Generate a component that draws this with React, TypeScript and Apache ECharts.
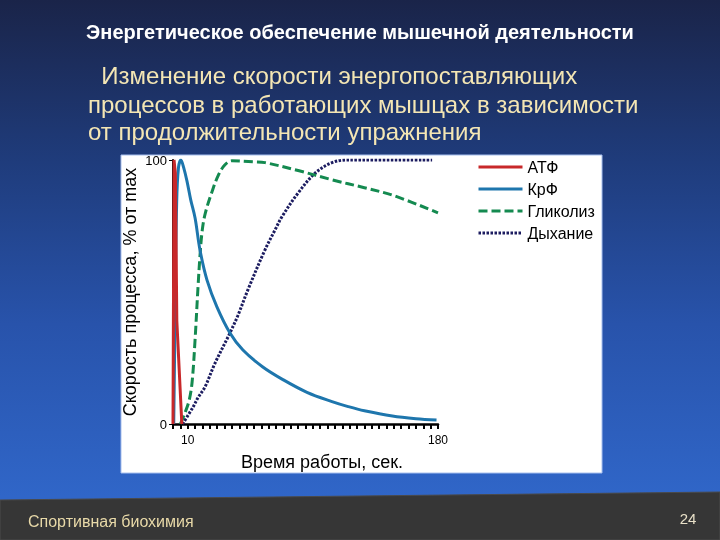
import React, { useEffect, useRef } from "react";
import * as echarts from "echarts";

const seriesNames = ["АТФ", "КрФ", "Гликолиз", "Дыхание"];

const atpData = [[0, 0], [0.7, 100], [1.6, 95], [2.6, 39], [6, 0]];
const crpData = [
  [0.5, 0], [1.5, 45], [2.5, 84], [3.7, 97], [5.4, 100], [7.3, 97], [9.5, 92],
  [12, 85], [15, 78], [18.3, 66], [23.1, 54.5], [29.9, 44.3],
  [38.7, 34.5], [47.5, 28], [61, 21.6], [75, 16.7], [91, 12], [108, 8.5],
  [119, 6.6], [130, 5], [149, 3], [165, 2], [179, 1.5],
];
const glyData = [
  [5, 0], [8, 4], [11, 9], [13, 16], [15, 32], [17, 52], [18.5, 65], [20, 74],
  [22, 80], [26.5, 88], [30.6, 94], [35, 98], [40, 99.7], [55, 99.3],
  [62.5, 99], [85, 96], [108, 92.5], [130, 89.5], [150, 86.5], [180, 80],
];
const respData = [
  [6.5, 0], [13.6, 6.4], [17, 10], [21.7, 14], [28.5, 23], [38.7, 34.5],
  [44, 41], [51, 51], [62.5, 66], [69.3, 73.5], [74, 78.5], [85, 87.5],
  [96.5, 95], [108, 99], [119, 100], [176, 100],
];

const xLabelValues = [10, 180];
const yLabelValues = [0, 100];

const titleText = "Энергетическое обеспечение мышечной деятельности";
const subtitleLines = [
  "  Изменение скорости энергопоставляющих",
  "процессов в работающих мышцах в зависимости",
  "от продолжительности упражнения",
];
const yAxisTitle = "Скорость процесса, % от max";
const xAxisTitle = "Время работы, сек.";
const footerLeft = "Спортивная биохимия";
const footerRight = "24";

export default function App() {
  const ref = useRef<HTMLDivElement>(null);
  useEffect(() => {
    if (!ref.current) return;
    const chart = echarts.init(ref.current, null, { renderer: "svg" });
    const font = "Liberation Sans, Arial, sans-serif";
    chart.setOption({
      animation: false,
      graphic: [
        {
          type: "rect", z: -10, silent: true,
          shape: { x: 0, y: 0, width: 720, height: 540 },
          style: {
            fill: new echarts.graphic.LinearGradient(0, 0, 0, 1, [
              { offset: 0, color: "#1a2449" },
              { offset: 0.3, color: "#1f3c7c" },
              { offset: 0.6, color: "#2853ab" },
              { offset: 0.92, color: "#3066c8" },
              { offset: 1, color: "#3066c8" },
            ]),
          },
        },
        {
          type: "polygon", z: -9, silent: true,
          shape: { points: [[0, 500], [720, 492], [720, 540], [0, 540]] },
          style: { fill: "#363636", stroke: "#4a4a4a", lineWidth: 1 },
        },
        {
          type: "rect", z: -8, silent: true,
          shape: { x: 121, y: 155, width: 481, height: 318 },
          style: { fill: "#ffffff", stroke: "#a8c0ee", lineWidth: 1 },
        },
        {
          type: "text", x: 360, y: 32,
          style: {
            text: titleText, fill: "#ffffff", font: `bold 20px ${font}`,
            align: "center", verticalAlign: "middle",
          },
        },
        ...subtitleLines.map((t, i) => ({
          type: "text", x: 88, y: [75, 104, 131][i],
          style: {
            text: t, fill: "#f4e6b4", font: `24px ${font}`,
            align: "left", verticalAlign: "middle",
          },
        })),
        {
          type: "text", x: 28, y: 521,
          style: {
            text: footerLeft, fill: "#e8d9a8", font: `16px ${font}`,
            align: "left", verticalAlign: "middle",
          },
        },
        {
          type: "text", x: 688, y: 518,
          style: {
            text: footerRight, fill: "#e8e0c8", font: `15px ${font}`,
            align: "center", verticalAlign: "middle",
          },
        },
      ],
      legend: {
        orient: "vertical",
        left: 477,
        top: 158,
        padding: 0,
        itemWidth: 44,
        itemHeight: 14,
        itemGap: 4,
        itemStyle: { opacity: 0, borderWidth: 0, color: "rgba(0,0,0,0)" },
        lineStyle: { width: 3 },
        textStyle: { color: "#000", fontSize: 16, lineHeight: 18, fontFamily: font },
        data: seriesNames,
      },
      grid: { left: 173, top: 160, width: 265, height: 264, containLabel: false },
      xAxis: {
        type: "value",
        min: 0,
        max: 180,
        interval: 5,
        splitLine: { show: false },
        axisLine: { lineStyle: { color: "#000", width: 2.5 } },
        axisTick: { show: true, length: 5, lineStyle: { color: "#000", width: 2 } },
        axisLabel: {
          color: "#000", fontSize: 12, margin: 10, fontFamily: font,
          formatter: (v: number) => (xLabelValues.includes(v) ? String(v) : ""),
        },
        name: xAxisTitle,
        nameLocation: "middle",
        nameGap: 29,
        nameTextStyle: { color: "#000", fontSize: 18, fontFamily: font, padding: [0, 0, 0, 33] },
      },
      yAxis: {
        type: "value",
        min: 0,
        max: 100,
        interval: 100,
        splitLine: { show: false },
        axisLine: { show: true, lineStyle: { color: "#000", width: 2 } },
        axisTick: { show: true, length: 4, lineStyle: { color: "#000", width: 1 } },
        axisLabel: {
          color: "#000", fontSize: 13, margin: 6, fontFamily: font,
          formatter: (v: number) => (yLabelValues.includes(v) ? String(v) : ""),
        },
        name: yAxisTitle,
        nameLocation: "middle",
        nameRotate: 90,
        nameGap: 34,
        nameTextStyle: { color: "#000", fontSize: 18, fontFamily: font },
      },
      series: [
        {
          name: seriesNames[0], type: "line", data: atpData, symbol: "none",
          smooth: false, z: 5,
          lineStyle: { color: "#c8282a", width: 3 }, itemStyle: { color: "#c8282a" },
        },
        {
          name: seriesNames[1], type: "line", data: crpData, symbol: "none",
          smooth: 0.35, z: 4,
          lineStyle: { color: "#1e76ad", width: 3 }, itemStyle: { color: "#1e76ad" },
        },
        {
          name: seriesNames[2], type: "line", data: glyData, symbol: "none",
          smooth: 0.35, z: 3,
          lineStyle: { color: "#148a50", width: 3, type: [9, 4] }, itemStyle: { color: "#148a50" },
        },
        {
          name: seriesNames[3], type: "line", data: respData, symbol: "none",
          smooth: 0.35, z: 2,
          lineStyle: { color: "#1c1c60", width: 3, type: [2.5, 1.5] }, itemStyle: { color: "#1c1c60" },
        },
      ],
    });
    return () => chart.dispose();
  }, []);
  return (
    <div
      ref={ref}
      style={{ position: "fixed", left: 0, top: 0, width: 720, height: 540 }}
    />
  );
}
